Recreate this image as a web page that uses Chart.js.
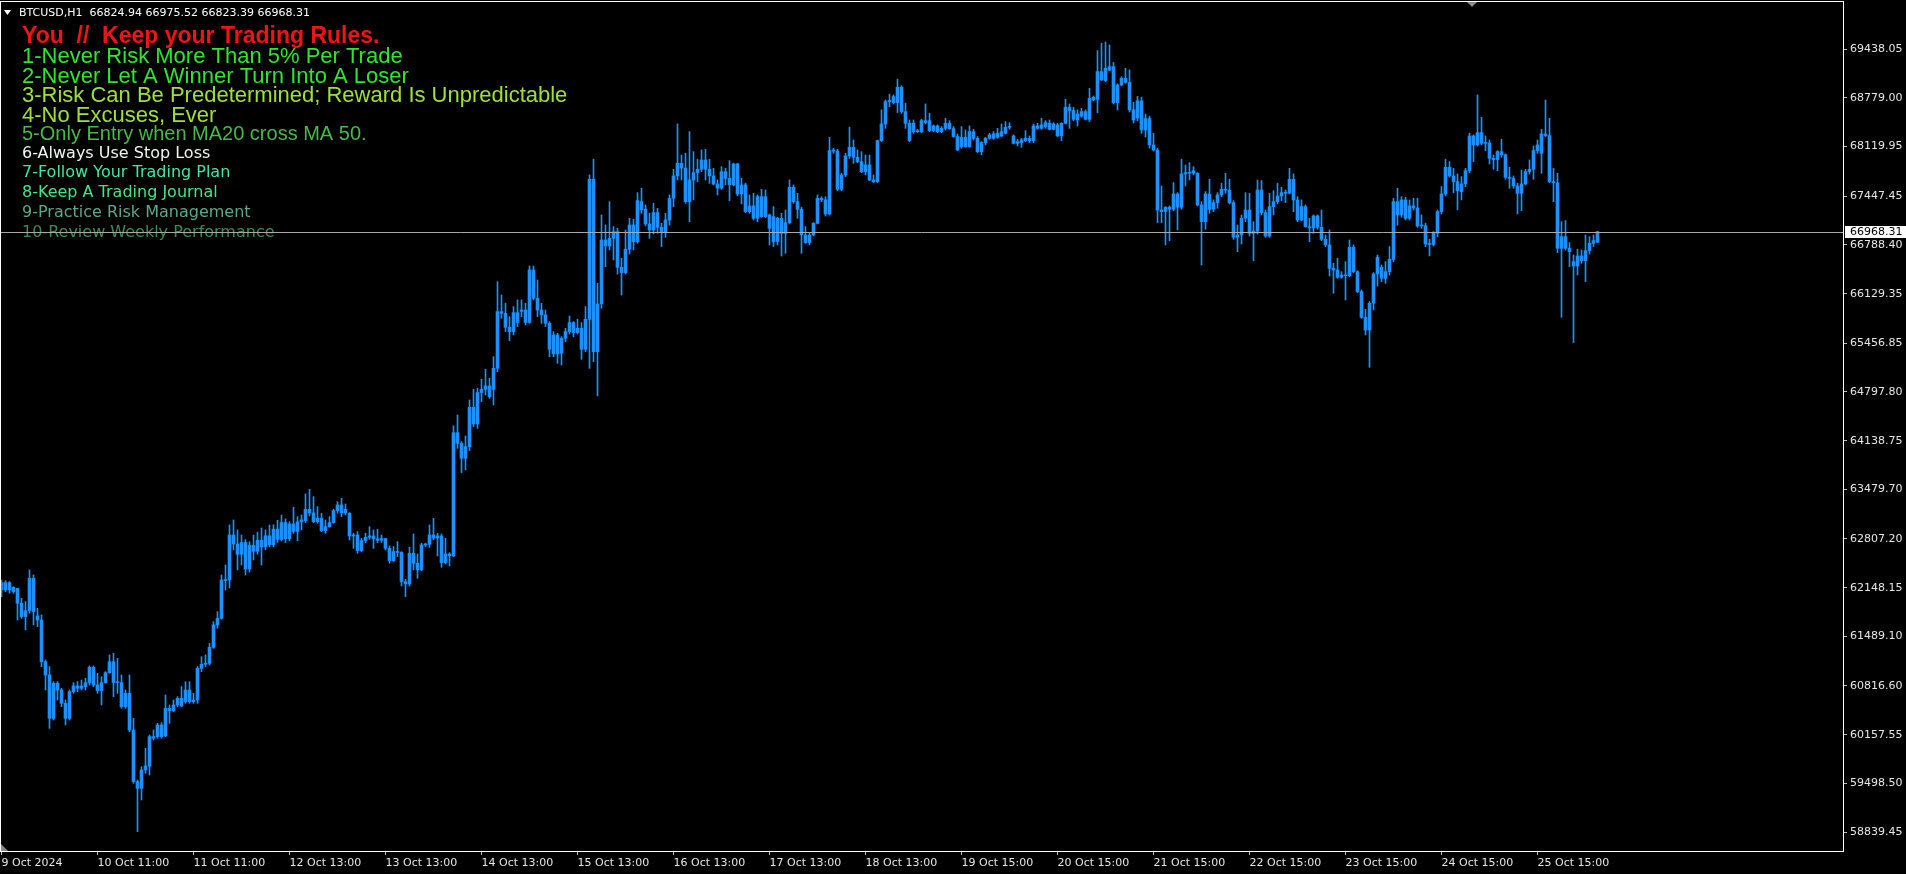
<!DOCTYPE html>
<html>
<head>
<meta charset="utf-8">
<title>BTCUSD,H1</title>
<script src="https://cdn.jsdelivr.net/npm/chart.js@4.4.1/dist/chart.umd.min.js"></script>
<style>
  html, body { margin: 0; padding: 0; background: #000; overflow: hidden; }
  #chart { display: block; }
</style>
</head>
<body>
<canvas id="chart" width="1906" height="874"></canvas>
<script>
// BTCUSD H1 candles (oldest first)
const opens = [
  62117, 62216, 62117, 62153, 62139, 61936, 61756, 61837, 62275, 61765,
  61710, 61146, 60966, 60379, 60853, 60763, 60582, 60379, 60740, 60817,
  60785, 60808, 60862, 61070, 60830, 60754, 60862, 60997, 61146, 60862,
  60862, 60537, 60717, 60221, 59521, 59431, 59679, 59733, 60131, 60131,
  60289, 60140, 60514, 60483, 60559, 60650, 60605, 60763, 60605, 60627,
  61056, 61110, 61124, 61340, 61643, 61733, 62252, 62252, 62862, 62740,
  62600, 62760, 62400, 62720, 62640, 62790, 62700, 62850, 62730, 62940,
  62800, 63030, 62810, 63011, 62910, 63040, 63056, 63209, 63160, 63042,
  63087, 62920, 62974, 63029, 63191, 63268, 63160, 63155, 62848, 62862,
  62649, 62785, 62830, 62848, 62810, 62790, 62812, 62681, 62514, 62636,
  62625, 62230, 62198, 62613, 62478, 62390, 62726, 62735, 62862, 62820,
  62848, 62487, 62604, 62580, 64247, 64103, 63900, 64058, 64590, 64365,
  64789, 64834, 64880, 64834, 65118, 65886, 65863, 65674, 65615, 65872,
  65890, 65908, 65740, 66450, 66066, 65908, 65841, 65728, 65570, 65313,
  65525, 65525, 65615, 65737, 65601, 65660, 65376, 65782, 67678, 65344,
  65990, 66856, 66775, 66879, 66969, 66486, 66414, 66730, 67059, 66833,
  67375, 67272, 67073, 66992, 67227, 67028, 66969, 67127, 67421, 67723,
  67894, 67830, 67375, 67669, 67768, 67813, 67939, 67813, 67723, 67614,
  67560, 67781, 67691, 67601, 67885, 67479, 67601, 67240, 67317, 67150,
  67443, 67172, 67195, 67172, 66834, 67150, 66946, 67091, 67569, 67375,
  67271, 66924, 66820, 66924, 67082, 67420, 67400, 67208, 68066, 68060,
  67542, 67736, 67994, 68111, 67976, 67917, 67781, 67872, 67669, 67646,
  68201, 68427, 68729, 68716, 68716, 68924, 68594, 68436, 68323, 68337,
  68323, 68472, 68472, 68337, 68400, 68323, 68368, 68436, 68364, 68256,
  68120, 68247, 68120, 68323, 68233, 68052, 68174, 68233, 68233, 68247,
  68265, 68301, 68382, 68265, 68165, 68174, 68201, 68233, 68201, 68400,
  68368, 68391, 68436, 68355, 68414, 68265, 68436, 68653, 68608, 68481,
  68535, 68594, 68490, 68752, 68761, 69136, 69014, 69158, 69203, 68716,
  68955, 69045, 68990, 68620, 68508, 68740, 68346, 68500, 68143, 68075,
  67262, 67240, 67299, 67272, 67479, 67299, 67750, 67768, 67760, 67759,
  67330, 67104, 67479, 67272, 67362, 67466, 67542, 67530, 67362, 66892,
  66924, 67150, 67262, 66946, 66975, 67533, 67226, 66910, 67308, 67375,
  67452, 67497, 67490, 67678, 67398, 67127, 67308, 67037, 67020, 67181,
  67028, 66865, 66789, 66473, 66450, 66351, 66380, 66370, 66757, 66427,
  66157, 65809, 65637, 65999, 66396, 66486, 66337, 66427, 66594, 67375,
  67195, 67398, 67150, 67317, 67290, 67046, 67050, 66802, 66795, 66947,
  67240, 67479, 67840, 67723, 67646, 67511, 67615, 67795, 68265, 68143,
  68310, 68165, 68170, 67962, 67945, 68052, 68010, 67705, 67690, 67588,
  67488, 67615, 67782, 67813, 68066, 68030, 68292, 68270, 67646, 67630,
  66743, 66901, 66743, 66563, 66504, 66640, 66576, 66712, 66811, 66824.94
];
const highs = [
  62252, 62243, 62230, 62162, 62139, 62004, 61959, 62388, 62320, 61868,
  61778, 61169, 61079, 60875, 60875, 60785, 60627, 60763, 60862, 60875,
  60898, 60921, 61088, 61088, 60988, 60943, 61011, 61237, 61259, 61191,
  60966, 60763, 60966, 60379, 59544, 59724, 59973, 60153, 60221, 60311,
  60320, 60695, 60560, 60627, 60672, 60808, 60875, 60875, 60717, 61079,
  61214, 61237, 61394, 61688, 61823, 62320, 62455, 62997, 63065, 62930,
  62860, 62800, 62770, 62860, 62900, 62956, 62930, 62996, 63000, 63060,
  63130, 63080, 63042, 63236, 63110, 63132, 63417, 63480, 63381, 63245,
  63155, 63065, 63110, 63209, 63313, 63358, 63281, 63164, 62884, 62907,
  62816, 62884, 62974, 62929, 62938, 62862, 62816, 62713, 62704, 62771,
  62636, 62261, 62695, 62875, 62604, 62749, 62749, 62997, 63087, 62884,
  62875, 62816, 62622, 64338, 64487, 64126, 64202, 64690, 64834, 64848,
  64970, 65105, 64983, 65276, 66292, 66111, 65999, 65818, 65954, 66044,
  66044, 65999, 66504, 66504, 66315, 65999, 65908, 65750, 65615, 65592,
  65548, 65660, 65827, 65750, 65782, 65737, 65954, 67737, 67948, 66270,
  67195, 67060, 67375, 67037, 67014, 66608, 66991, 67150, 67136, 67497,
  67556, 67330, 67217, 67353, 67285, 67082, 67217, 67466, 67813, 68427,
  68007, 68030, 68323, 68052, 67949, 68075, 68084, 67949, 67827, 67669,
  67849, 67827, 67930, 67894, 67894, 67691, 67623, 67466, 67488, 67466,
  67542, 67533, 67208, 67308, 67163, 67217, 67262, 67669, 67601, 67488,
  67299, 67037, 66946, 67091, 67466, 67443, 67443, 68246, 68097, 68084,
  67759, 68030, 68382, 68210, 68075, 68052, 68007, 68007, 67736, 68210,
  68617, 68752, 68830, 68820, 69032, 68942, 68707, 68481, 68481, 68355,
  68490, 68698, 68571, 68414, 68414, 68391, 68504, 68472, 68391, 68292,
  68391, 68346, 68400, 68355, 68256, 68188, 68247, 68301, 68323, 68368,
  68427, 68459, 68445, 68278, 68219, 68233, 68337, 68265, 68427, 68436,
  68504, 68472, 68481, 68445, 68436, 68445, 68761, 68698, 68653, 68617,
  68639, 68617, 68910, 68806, 69420, 69519, 69537, 69497, 69258, 68969,
  69068, 69181, 69160, 68720, 68800, 68790, 68560, 68530, 68300, 68100,
  67587, 67308, 67317, 67633, 67497, 67949, 67872, 67903, 67849, 67768,
  67375, 67511, 67678, 67398, 67497, 67624, 67759, 67678, 67389, 67059,
  67195, 67497, 67488, 67104, 67669, 67660, 67262, 67488, 67524, 67624,
  67569, 67533, 67827, 67750, 67443, 67398, 67330, 67150, 67195, 67195,
  67262, 66924, 66992, 66540, 66608, 66427, 66563, 66856, 66789, 66441,
  66179, 65917, 66021, 66414, 66653, 66518, 66563, 66766, 67421, 67556,
  67443, 67434, 67398, 67421, 67421, 67195, 67082, 66865, 66969, 67263,
  67579, 67949, 67917, 67827, 67750, 67714, 67827, 68301, 68278, 68820,
  68517, 68265, 68210, 68007, 68066, 68220, 68021, 67840, 67723, 67624,
  67804, 67813, 67940, 68129, 68210, 68355, 68752, 68504, 67827, 67759,
  67105, 67118, 66820, 66653, 66730, 66721, 66924, 66901, 66924, 66975.52
];
const lows = [
  62026, 62094, 62072, 62072, 61710, 61733, 61575, 61801, 61643, 61620,
  61079, 60763, 60243, 60356, 60627, 60537, 60289, 60356, 60720, 60740,
  60763, 60763, 60830, 60808, 60717, 60559, 60853, 60988, 60672, 60717,
  60514, 60514, 60198, 59499, 58844, 59273, 59634, 59611, 60085, 60108,
  60110, 60131, 60311, 60469, 60537, 60537, 60582, 60582, 60582, 60582,
  61011, 61079, 61101, 61327, 61598, 61720, 62117, 62144, 62658, 62388,
  62455, 62320, 62360, 62523, 62600, 62455, 62660, 62700, 62700, 62760,
  62780, 62760, 62780, 62884, 62785, 62929, 63029, 63119, 63029, 63020,
  62907, 62884, 62965, 63020, 63155, 63110, 63132, 62794, 62681, 62613,
  62636, 62758, 62803, 62681, 62758, 62758, 62658, 62478, 62501, 62568,
  62171, 62027, 62171, 62388, 62275, 62379, 62704, 62695, 62794, 62577,
  62424, 62469, 62442, 62568, 64035, 63706, 63742, 64004, 64329, 64306,
  64667, 64757, 64712, 64622, 65073, 65796, 65615, 65493, 65570, 65683,
  65818, 65705, 65728, 66044, 65818, 65728, 65683, 65276, 65276, 65186,
  65164, 65480, 65583, 65547, 65583, 65240, 65344, 65118, 65209, 64744,
  65931, 66495, 66721, 66585, 66396, 66111, 66396, 66667, 66721, 66811,
  67217, 67046, 66879, 66938, 66947, 66766, 66892, 67059, 67308, 67669,
  67669, 67353, 67104, 67398, 67646, 67781, 67669, 67623, 67601, 67466,
  67542, 67601, 67389, 67590, 67452, 67344, 67226, 67217, 67127, 67104,
  67163, 67160, 66788, 66766, 66788, 66639, 66676, 67073, 67353, 67150,
  66676, 66811, 66788, 66910, 67073, 67375, 67181, 67195, 68030, 67524,
  67524, 67714, 67962, 67894, 67903, 67768, 67736, 67660, 67633, 67633,
  68188, 68368, 68660, 68698, 68581, 68571, 68368, 68188, 68301, 68310,
  68310, 68427, 68323, 68323, 68310, 68310, 68346, 68355, 68247, 68066,
  68098, 68111, 68111, 68210, 68039, 68007, 68143, 68219, 68219, 68233,
  68256, 68292, 68355, 68156, 68129, 68111, 68188, 68174, 68174, 68355,
  68355, 68368, 68346, 68346, 68256, 68201, 68427, 68368, 68472, 68400,
  68517, 68481, 68459, 68743, 68581, 69014, 69000, 69149, 68698, 68617,
  68942, 68978, 68590, 68440, 68470, 68300, 68250, 68100, 68060, 67091,
  67091, 66789, 66847, 67253, 66992, 67272, 67587, 67669, 67736, 67317,
  66518, 67001, 67217, 67240, 67285, 67443, 67488, 67344, 66865, 66698,
  66802, 67104, 66910, 66576, 66937, 67195, 66892, 66892, 67195, 67344,
  67389, 67362, 67479, 67240, 67104, 67118, 67028, 66834, 66946, 67001,
  66847, 66766, 66369, 66134, 66337, 66337, 66044, 66360, 66414, 66143,
  65795, 65570, 65132, 65908, 66233, 66292, 66269, 66382, 66563, 67059,
  67163, 67127, 67127, 67263, 67028, 67014, 66766, 66640, 66775, 66901,
  67208, 67452, 67705, 67497, 67263, 67398, 67579, 67768, 67917, 68130,
  68143, 68066, 67885, 67813, 67795, 67976, 67678, 67556, 67556, 67208,
  67254, 67601, 67750, 67678, 68030, 67759, 68256, 67633, 67375, 66685,
  65809, 66721, 66495, 65466, 66382, 66540, 66292, 66667, 66766, 66823.39
];
const closes = [
  62216, 62117, 62216, 62094, 61936, 61756, 61837, 62275, 61823, 61710,
  61146, 60966, 60379, 60853, 60763, 60582, 60379, 60740, 60817, 60785,
  60817, 60862, 61070, 60830, 60754, 60862, 60997, 61146, 60862, 60875,
  60537, 60717, 60221, 59521, 59431, 59679, 59733, 60131, 60108, 60289,
  60131, 60514, 60483, 60559, 60650, 60546, 60763, 60605, 60627, 61056,
  61110, 61124, 61340, 61643, 61733, 62252, 62243, 62862, 62740, 62600,
  62760, 62400, 62720, 62640, 62790, 62700, 62850, 62730, 62940, 62800,
  63030, 62810, 63011, 62910, 63040, 63065, 63209, 63160, 63042, 63087,
  62920, 62974, 63029, 63191, 63268, 63160, 63209, 62848, 62862, 62649,
  62785, 62830, 62848, 62810, 62790, 62812, 62681, 62514, 62636, 62625,
  62230, 62198, 62613, 62478, 62390, 62726, 62735, 62862, 62820, 62848,
  62487, 62604, 62580, 64247, 64103, 63900, 64058, 64590, 64365, 64789,
  64834, 64880, 64735, 65118, 65886, 65863, 65674, 65615, 65872, 65737,
  65908, 65740, 66450, 66066, 65908, 65841, 65728, 65376, 65313, 65570,
  65322, 65615, 65737, 65601, 65660, 65376, 65782, 67678, 65344, 65990,
  66856, 66775, 66879, 66969, 66486, 66414, 66730, 67059, 66833, 67389,
  67263, 67073, 66992, 67227, 67028, 66969, 67127, 67421, 67723, 67894,
  67830, 67375, 67669, 67768, 67813, 67939, 67813, 67723, 67614, 67560,
  67781, 67691, 67601, 67885, 67479, 67601, 67240, 67317, 67150, 67443,
  67172, 67443, 67014, 66834, 67150, 66946, 67091, 67569, 67375, 67271,
  66924, 66820, 66924, 67082, 67420, 67400, 67208, 68066, 68060, 67542,
  67736, 67994, 68111, 67976, 67917, 67781, 67872, 67669, 67646, 68201,
  68427, 68729, 68745, 68797, 68924, 68594, 68436, 68201, 68436, 68323,
  68472, 68445, 68337, 68400, 68323, 68368, 68436, 68364, 68256, 68075,
  68247, 68120, 68323, 68233, 68052, 68174, 68233, 68278, 68292, 68301,
  68323, 68382, 68391, 68165, 68188, 68210, 68233, 68201, 68400, 68368,
  68414, 68445, 68355, 68427, 68265, 68436, 68653, 68608, 68490, 68562,
  68594, 68490, 68775, 68788, 69136, 69023, 69181, 69203, 68716, 68955,
  69045, 68990, 68620, 68481, 68740, 68346, 68500, 68143, 68075, 67262,
  67240, 67299, 67272, 67479, 67299, 67750, 67768, 67760, 67795, 67330,
  67104, 67479, 67272, 67362, 67466, 67542, 67530, 67362, 66892, 66924,
  67150, 67262, 66946, 66975, 67533, 67226, 66910, 67308, 67375, 67452,
  67497, 67490, 67678, 67398, 67127, 67308, 67037, 67020, 67181, 67028,
  66865, 66789, 66473, 66450, 66351, 66380, 66370, 66757, 66427, 66157,
  65809, 65637, 65999, 66396, 66622, 66337, 66427, 66594, 67375, 67195,
  67398, 67150, 67317, 67290, 67046, 67050, 66802, 66795, 66947, 67240,
  67479, 67840, 67723, 67646, 67524, 67615, 67795, 68265, 68143, 68310,
  68165, 68170, 67962, 67945, 68052, 68010, 67705, 67690, 67588, 67488,
  67615, 67782, 67813, 68066, 68143, 68292, 68270, 67646, 67630, 66743,
  66901, 66743, 66698, 66504, 66640, 66576, 66712, 66811, 66847, 66968.31
];

// time axis labels, one every 24 bars
const timeLabels = [
  '9 Oct 2024', '10 Oct 11:00', '11 Oct 11:00', '12 Oct 13:00', '13 Oct 13:00',
  '14 Oct 13:00', '15 Oct 13:00', '16 Oct 13:00', '17 Oct 13:00', '18 Oct 13:00',
  '19 Oct 15:00', '20 Oct 15:00', '21 Oct 15:00', '22 Oct 15:00', '23 Oct 15:00',
  '24 Oct 15:00', '25 Oct 15:00'
];
const barsPerLabel = 24;

// price axis labels
const priceTicks = [
  69438.05, 68779.00, 68119.95, 67447.45, 66788.40, 66129.35, 65456.85, 64797.80,
  64138.75, 63479.70, 62807.20, 62148.15, 61489.10, 60816.60, 60157.55, 59498.50, 58839.45
];

const symbolName = 'BTCUSD,H1';
const ruleTitle = 'You  //  Keep your Trading Rules.';
const rules = [
  '1-Never Risk More Than 5% Per Trade',
  '2-Never Let A Winner Turn Into A Loser',
  '3-Risk Can Be Predetermined; Reward Is Unpredictable',
  '4-No Excuses, Ever',
  '5-Only Entry when MA20 cross MA 50.',
  '6-Always Use Stop Loss',
  '7-Follow Your Trading Plan',
  '8-Keep A Trading Journal',
  '9-Practice Risk Management',
  '10-Review Weekly Performance'
];

// ---- look ----
const candleColor = '#1e90ff';
const axisText = '#e6e6e6';
const ruleColors = ['#2ee62e', '#2ee62e', '#9ee03a', '#9ee03a', '#48b848',
                    '#eef6ee', '#44e6a0', '#44e680', '#5ea88a', '#3c8c50'];
const ruleFonts = ['22px "Liberation Sans"', '22px "Liberation Sans"', '22px "Liberation Sans"',
                   '22px "Liberation Sans"', '20px "Liberation Sans"', '16px "DejaVu Sans"',
                   '16px "DejaVu Sans"', '16px "DejaVu Sans"', '16px "DejaVu Sans"', '16px "DejaVu Sans"'];
const ruleBaselines = [63, 83, 102, 122, 140, 157.5, 177, 197, 217, 236.5];
const textLeft = 22;
const smallFont = '11px "DejaVu Sans"';

const wickData = opens.map((o, i) => ({ x: i, y: [lows[i], highs[i]] }));
const bodyData = opens.map((o, i) => ({ x: i, y: [o, closes[i]] }));
const lastBar = opens.length - 1;

const mt4Overlay = {
  id: 'mt4Overlay',
  afterDatasetsDraw(chart) {
    const { ctx, chartArea: a, scales: { y } } = chart;
    ctx.save();
    ctx.textBaseline = 'alphabetic';
    ctx.textAlign = 'left';

    // rules text block
    ctx.font = 'bold 23px "Liberation Sans"';
    ctx.fillStyle = '#f01414';
    ctx.fillText(ruleTitle, textLeft, 43);
    rules.forEach((t, k) => {
      ctx.font = ruleFonts[k];
      ctx.fillStyle = ruleColors[k];
      ctx.fillText(t, textLeft, ruleBaselines[k]);
    });

    // header line
    ctx.fillStyle = '#ffffff';
    ctx.beginPath();
    ctx.moveTo(4, 10); ctx.lineTo(11, 10); ctx.lineTo(7.5, 15); ctx.closePath();
    ctx.fill();
    ctx.font = smallFont;
    const hdr = symbolName + '  ' + [opens[lastBar], highs[lastBar], lows[lastBar], closes[lastBar]]
      .map(v => v.toFixed(2)).join(' ');
    ctx.fillText(hdr, 19, 16);

    // bid line
    const py = Math.round(y.getPixelForValue(closes[lastBar])) + 0.5;
    ctx.strokeStyle = '#a8a8a8';
    ctx.lineWidth = 1;
    ctx.beginPath();
    ctx.moveTo(a.left, py); ctx.lineTo(a.right, py);
    ctx.stroke();
    ctx.restore();
  },
  afterDraw(chart) {
    const { ctx, chartArea: a, scales: { y } } = chart;
    ctx.save();
    // frame
    ctx.strokeStyle = '#ffffff';
    ctx.lineWidth = 1;
    ctx.strokeRect(a.left + 0.5, a.top + 0.5, a.right - a.left, a.bottom - a.top);

    // chart shift markers
    ctx.fillStyle = '#8a8a8a';
    ctx.beginPath();
    ctx.moveTo(1467, 2); ctx.lineTo(1477, 2); ctx.lineTo(1472, 7); ctx.closePath();
    ctx.fill();
    ctx.beginPath();
    ctx.moveTo(a.left + 1, a.bottom - 7); ctx.lineTo(a.left + 1, a.bottom); ctx.lineTo(a.left + 8, a.bottom);
    ctx.closePath();
    ctx.fill();

    // last price box on the price axis
    const py = Math.round(y.getPixelForValue(closes[lastBar]));
    ctx.fillStyle = '#ffffff';
    ctx.fillRect(a.right + 2, py - 6, 61, 12);
    ctx.fillStyle = '#000000';
    ctx.font = smallFont;
    ctx.textBaseline = 'middle';
    ctx.fillText(closes[lastBar].toFixed(2), a.right + 7, py);
    ctx.restore();
  }
};

new Chart(document.getElementById('chart'), {
  type: 'bar',
  data: {
    datasets: [
      { data: wickData, backgroundColor: candleColor, barThickness: 1, grouped: false, borderWidth: 0, minBarLength: 1 },
      { data: bodyData, backgroundColor: candleColor, barThickness: 3, grouped: false, borderWidth: 0, minBarLength: 1 }
    ]
  },
  options: {
    responsive: false,
    animation: false,
    devicePixelRatio: 1,
    layout: { padding: { top: 1, left: 0, right: 0, bottom: 0 }, autoPadding: false },
    plugins: { legend: { display: false }, tooltip: { enabled: false } },
    scales: {
      x: {
        type: 'linear',
        min: -0.375,
        max: 460.375,
        offset: false,
        afterBuildTicks: s => { s.ticks = timeLabels.map((_, k) => ({ value: k * barsPerLabel })); },
        afterFit: s => { s.height = 23; s.paddingLeft = 0; s.paddingRight = 0; },
        grid: { display: true, drawOnChartArea: false, drawTicks: true, tickLength: 4, color: '#c0c0c0', offset: false },
        border: { display: false },
        ticks: {
          autoSkip: false, maxRotation: 0, align: 'start', padding: 2,
          color: axisText, font: { family: 'DejaVu Sans', size: 11 },
          callback: (v, i) => timeLabels[i]
        }
      },
      y: {
        position: 'right',
        min: 58582.2,
        max: 70092.06,
        afterBuildTicks: s => { s.ticks = priceTicks.map(v => ({ value: v })); },
        afterFit: s => { s.width = 63; s.paddingTop = 0; s.paddingBottom = 0; },
        grid: { display: true, drawOnChartArea: false, drawTicks: true, tickLength: 4, color: '#c0c0c0' },
        border: { display: false },
        ticks: {
          padding: 3,
          color: axisText, font: { family: 'DejaVu Sans', size: 11 },
          callback: v => v.toFixed(2)
        }
      }
    }
  },
  plugins: [mt4Overlay]
});
</script>
</body>
</html>
